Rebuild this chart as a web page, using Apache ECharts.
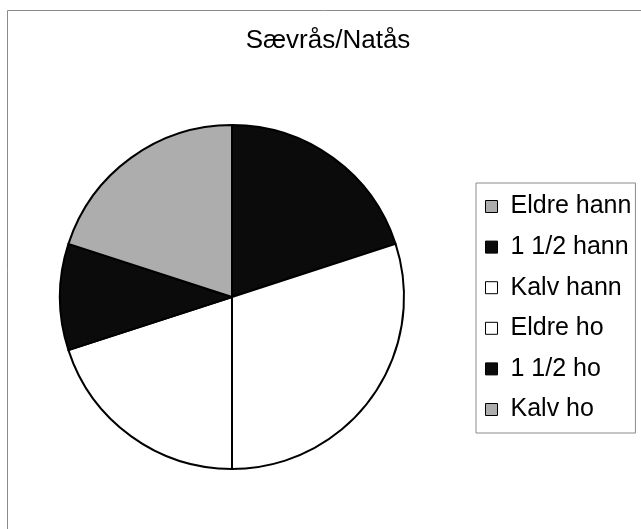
<!DOCTYPE html>
<html>
<head>
<meta charset="utf-8">
<script src="https://cdn.jsdelivr.net/npm/echarts@6/dist/echarts.min.js"></script>
<style>
  html, body { margin: 0; padding: 0; background: #fff; }
  #chart { width: 641px; height: 529px; }
</style>
</head>
<body>
<div id="chart"></div>
<script>
// data
const categories = ['Eldre hann', '1 1/2 hann', 'Kalv hann', 'Eldre ho', '1 1/2 ho', 'Kalv ho']
const values = [0, 2, 3, 2, 1, 2]
const colors = ['#adadad', '#0b0b0b', '#ffffff', '#ffffff', '#0b0b0b', '#adadad']

const chart = echarts.init(document.getElementById('chart'))

const option = {
  animation: false,
  textStyle: { fontFamily: 'Liberation Sans, Arial, sans-serif' },
  // frame round the chart area (only top and left are visible in the picture)
  graphic: [{
    type: 'rect',
    shape: { x: 7.5, y: 10.5, width: 700, height: 600 },
    style: { fill: 'none', stroke: '#8a8a8a', lineWidth: 1 },
    silent: true
  }],
  title: {
    text: 'Sævrås/Natås',
    left: 323,
    top: 23,
    textAlign: 'center',
    textStyle: { fontSize: 26, fontWeight: 'normal', color: '#000' }
  },
  legend: {
    orient: 'vertical',
    left: 476,
    top: 183,
    width: 159,
    padding: [11, 4, 11, 9],
    borderColor: '#8a8a8a',
    borderWidth: 1,
    itemWidth: 12,
    itemHeight: 12,
    itemGap: 15.6,
    icon: 'rect',
    itemStyle: { borderColor: '#000', borderWidth: 1 },
    textStyle: { fontSize: 25, color: '#000', padding: [0, 0, 0, 8] },
    data: categories
  },
  series: [{
    type: 'pie',
    center: [232, 297],
    radius: 172,
    startAngle: 90,
    clockwise: true,
    avoidLabelOverlap: false,
    label: { show: false },
    labelLine: { show: false },
    emphasis: { disabled: true },
    itemStyle: { borderColor: '#000', borderWidth: 2 },
    data: categories.map((name, i) => ({
      name: name,
      value: values[i],
      itemStyle: { color: colors[i] }
    }))
  }]
}

chart.setOption(option)
</script>
</body>
</html>
